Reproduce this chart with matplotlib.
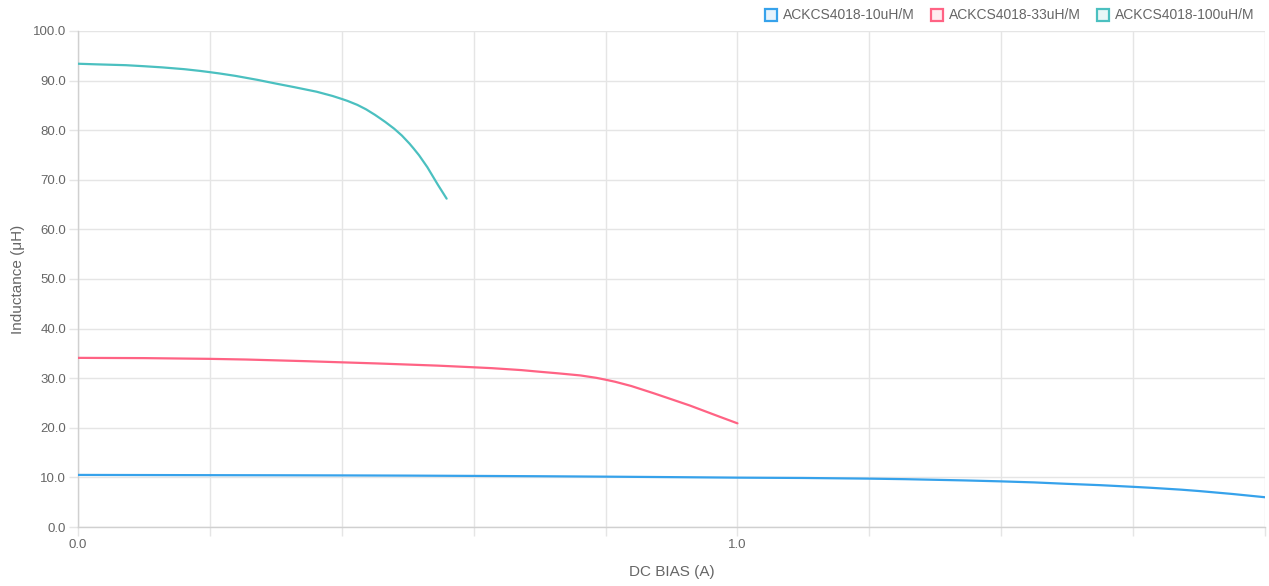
import matplotlib
matplotlib.use("Agg")
import numpy as np
import matplotlib.pyplot as plt
from matplotlib.patches import Rectangle, PathPatch
from matplotlib.path import Path

# DC bias (A) vs inductance (uH)
bias_10uh = [0.0, 0.2, 0.4, 0.6, 0.8, 1.0, 1.2, 1.4, 1.5, 1.6, 1.7, 1.8]
ind_10uh = [10.5, 10.45, 10.4, 10.3, 10.15, 9.95, 9.75, 9.2, 8.7, 8.1, 7.25, 6.0]

bias_33uh = [0.0, 0.2, 0.4, 0.6, 0.7, 0.8, 0.9, 1.0]
ind_33uh = [34.1, 33.9, 33.2, 32.2, 31.3, 29.7, 25.75, 20.9]

bias_100uh = [0.0, 0.1, 0.2, 0.3, 0.4, 0.458, 0.509, 0.559]
ind_100uh = [93.4, 92.9, 91.7, 89.4, 86.3, 82.4, 76.3, 66.2]

series = [
    ("ACKCS4018-10uH/M", bias_10uh, ind_10uh, "#36a2eb"),
    ("ACKCS4018-33uH/M", bias_33uh, ind_33uh, "#ff6384"),
    ("ACKCS4018-100uH/M", bias_100uh, ind_100uh, "#4bc0c0"),
]

x_ticks = [0.0, 0.2, 0.4, 0.6, 0.8, 1.0, 1.2, 1.4, 1.6, 1.8]
x_tick_labels = ["0.0", "", "", "", "", "1.0", "", "", "", ""]
y_ticks = [0, 10, 20, 30, 40, 50, 60, 70, 80, 90, 100]


def smooth_path(ax, xs, ys, tension=0.4):
    """Bezier path through the points, control points like chart.js line tension."""
    pts = ax.transData.transform(np.column_stack([xs, ys]))
    n = len(pts)
    verts = [pts[0]]
    codes = [Path.MOVETO]
    cp_prev = [None] * n
    cp_next = [None] * n
    for i in range(n):
        p0 = pts[max(i - 1, 0)]
        p1 = pts[i]
        p2 = pts[min(i + 1, n - 1)]
        d01 = np.hypot(*(p1 - p0))
        d12 = np.hypot(*(p2 - p1))
        tot = d01 + d12 if d01 + d12 > 0 else 1.0
        fa = tension * d01 / tot
        fb = tension * d12 / tot
        cp_prev[i] = p1 - fa * (p2 - p0)
        cp_next[i] = p1 + fb * (p2 - p0)
    for i in range(1, n):
        verts.extend([cp_next[i - 1], cp_prev[i], pts[i]])
        codes.extend([Path.CURVE4] * 3)
    verts = ax.transData.inverted().transform(np.array(verts))
    return Path(verts, codes)


plt.rcParams['font.family'] = ['Liberation Sans', 'DejaVu Sans']
W, H = 1269, 586
fig = plt.figure(figsize=(W / 100, H / 100), dpi=100)
ax = fig.add_axes([78 / W, 1 - 527 / H, (1265 - 78) / W, (527 - 31) / H])

ax.set_xlim(0, 1.8)
ax.set_ylim(0, 100)

for name, xs, ys, color in series:
    path = smooth_path(ax, xs, ys)
    ax.add_patch(PathPatch(path, facecolor="none", edgecolor=color, linewidth=1.6,
                           capstyle='round', joinstyle='round', zorder=3))

ax.set_xticks(x_ticks)
ax.set_xticklabels(x_tick_labels)
ax.set_yticks(y_ticks)
ax.set_yticklabels([f"{v:.1f}" for v in y_ticks])

grid_color = "#e5e5e5"
ax.grid(True, color=grid_color, linewidth=1.0, zorder=0)
for side in ["top", "right"]:
    ax.spines[side].set_visible(False)
for side in ["left", "bottom"]:
    ax.spines[side].set_color("#d0d0d0")
    ax.spines[side].set_linewidth(1.0)
ax.tick_params(axis='both', colors=grid_color, length=6.5, width=1.0,
               labelcolor="#666666", labelsize=9.5, pad=2)

ax.set_xlabel("DC BIAS (A)", color="#666666", fontsize=11, labelpad=10)
ax.set_ylabel("Inductance (μH)", color="#666666", fontsize=11, labelpad=6)

# legend drawn in figure pixels like the chart.js header
legend_x = [765, 931, 1097]
for (name, xs, ys, color), lx in zip(series, legend_x):
    box = Rectangle((lx / W, 1 - 21 / H), 12 / W, 12 / H, transform=fig.transFigure,
                    facecolor=color, alpha=0.12, edgecolor="none")
    edge = Rectangle((lx / W, 1 - 21 / H), 12 / W, 12 / H, transform=fig.transFigure,
                     facecolor="none", edgecolor=color, linewidth=1.6)
    fig.patches.extend([box, edge])
    fig.text((lx + 18) / W, 1 - 15 / H, name, color="#666666", fontsize=10,
             va="center", ha="left")

fig.savefig("out.png", dpi=100)
